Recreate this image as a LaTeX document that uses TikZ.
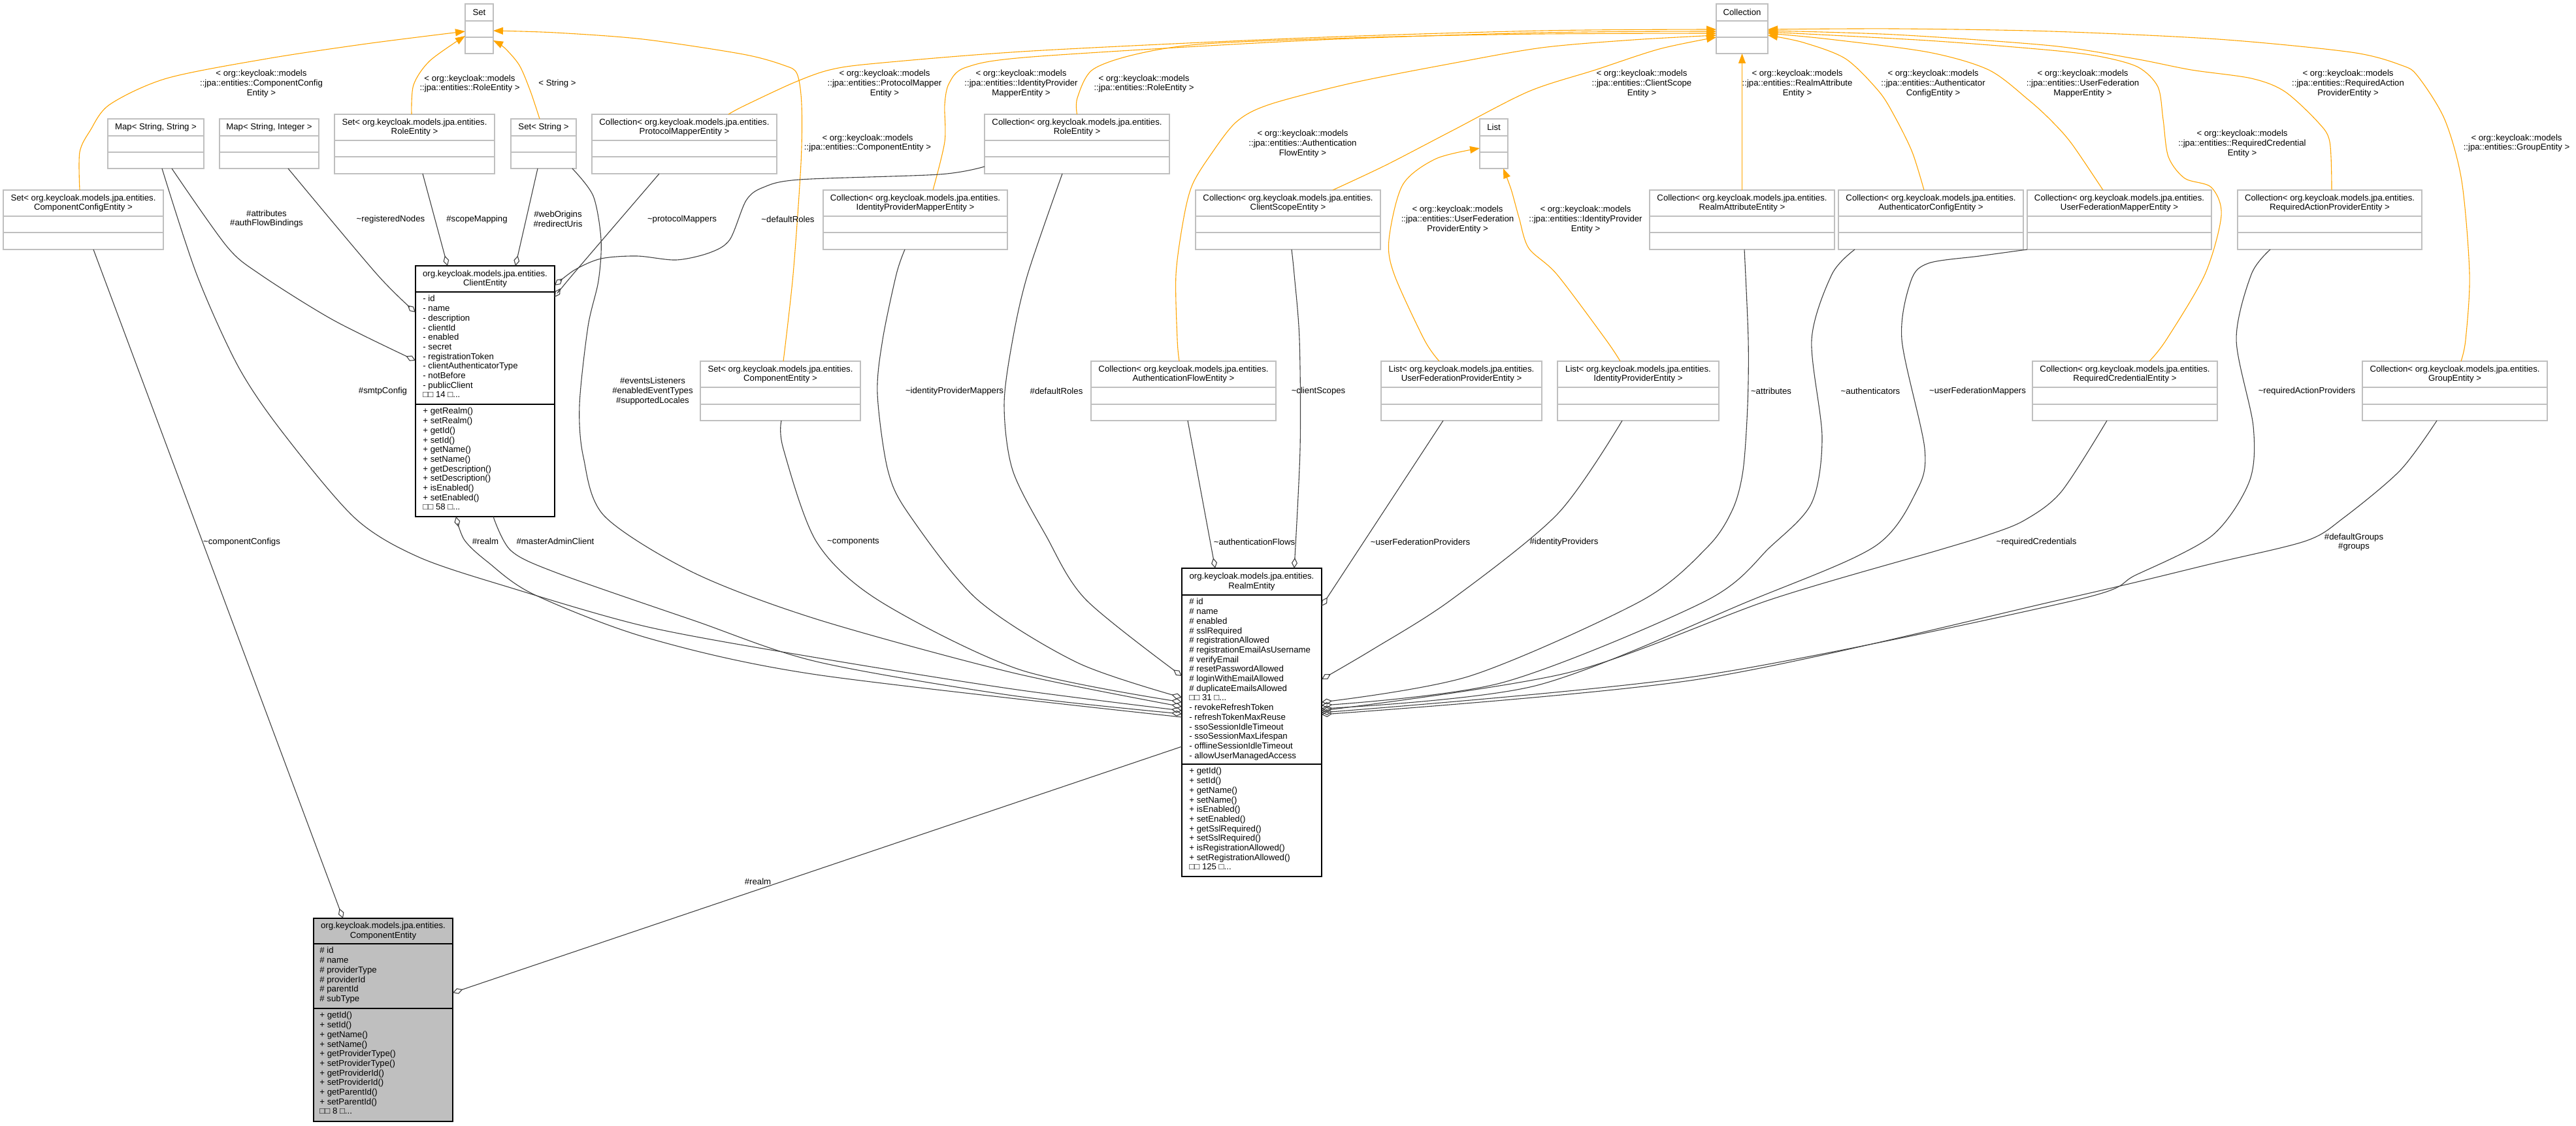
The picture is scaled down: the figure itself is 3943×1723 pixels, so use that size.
\documentclass[tikz,border=0pt]{standalone}
\usepackage{fontspec}
\setmainfont{Liberation Sans}
\usetikzlibrary{arrows.meta,calc}
\definecolor{boxgray}{HTML}{BFBFBF}
\definecolor{edgegray}{HTML}{404040}
\definecolor{instorange}{HTML}{FFA500}
\definecolor{compfill}{HTML}{BFBFBF}
\newcommand\dfont{\fontsize{6.6pt}{7.35pt}\selectfont}
\newcommand\tl{\textasciitilde}
\newcommand\okm{< org::keycloak::models}
\newcommand\oke{org.keycloak.models.jpa.entities.}
\newcommand\tbx[8]{%
  \node[tbox, anchor=north west, minimum width={0.5pt*(#4-#2)}, minimum height={0.5pt*(#5-#3)}] (#1) at (#2,#3) {};
  \draw[tsep] (#2,#6) -- (#4,#6) (#2,#7) -- (#4,#7);
  \node[lbl] (#1T) at ({(#2+#4)/2},{(#3+#6)/2}) {#8};
}
\begin{document}
\begin{tikzpicture}[x=0.5pt,y=-0.5pt,
  tbox/.style={draw=boxgray, line width=0.8pt, fill=white, inner sep=0pt, outer sep=0pt},
  tsep/.style={draw=boxgray, line width=0.8pt},
  cbox/.style={draw=black, line width=0.6pt, fill=white, inner sep=0pt, outer sep=0pt},
  csep/.style={draw=black, line width=0.6pt},
  lbl/.style={align=center, inner sep=0pt, font=\dfont},
  mem/.style={anchor=north west, align=left, inner sep=0pt, font=\dfont},
  agg/.style={draw=edgegray, line width=0.55pt, -{Diamond[open, length=8pt, width=4.5pt, line width=0.55pt]}},
  inst/.style={draw=instorange, line width=0.55pt, -{Triangle[length=7.5pt, width=5.5pt]}}]
\fill[white] (0,0) rectangle (3943,1723);
\useasboundingbox (0,0) rectangle (3943,1723);

% ---------- template boxes ----------
\tbx{setT}{712}{6}{755}{82}{32}{57}{Set}
\tbx{collT}{2627}{6}{2706}{82}{32}{57}{Collection}
\tbx{listT}{2265}{182}{2308}{258}{208}{233}{List}
\tbx{mapSS}{165}{182}{312}{258}{208}{233}{Map< String, String >}
\tbx{mapSI}{336}{182}{488}{258}{208}{233}{Map< String, Integer >}
\tbx{setRole}{512}{175}{757}{266}{215}{240}{Set< \oke\\RoleEntity >}
\tbx{setStr}{782}{182}{882}{258}{208}{233}{Set< String >}
\tbx{colPM}{906}{175}{1189}{266}{215}{240}{Collection< \oke\\ProtocolMapperEntity >}
\tbx{colRole}{1507}{175}{1790}{266}{215}{240}{Collection< \oke\\RoleEntity >}
\tbx{setCC}{5}{291}{250}{382}{331}{356}{Set< \oke\\ComponentConfigEntity >}
\tbx{colIPM}{1260}{291}{1542}{382}{331}{356}{Collection< \oke\\IdentityProviderMapperEntity >}
\tbx{colCS}{1830}{291}{2113}{382}{331}{356}{Collection< \oke\\ClientScopeEntity >}
\tbx{colRA}{2525}{291}{2808}{382}{331}{356}{Collection< \oke\\RealmAttributeEntity >}
\tbx{colAC}{2814}{291}{3097}{382}{331}{356}{Collection< \oke\\AuthenticatorConfigEntity >}
\tbx{colUFM}{3103}{291}{3385}{382}{331}{356}{Collection< \oke\\UserFederationMapperEntity >}
\tbx{colRAP}{3425}{291}{3707}{382}{331}{356}{Collection< \oke\\RequiredActionProviderEntity >}
\tbx{setComp}{1072}{553}{1317}{644}{593}{619}{Set< \oke\\ComponentEntity >}
\tbx{colAF}{1670}{553}{1953}{644}{593}{619}{Collection< \oke\\AuthenticationFlowEntity >}
\tbx{listUFP}{2114}{553}{2360}{644}{593}{619}{List< \oke\\UserFederationProviderEntity >}
\tbx{listIP}{2384}{553}{2631}{644}{593}{619}{List< \oke\\IdentityProviderEntity >}
\tbx{colRC}{3111}{553}{3394}{644}{593}{619}{Collection< \oke\\RequiredCredentialEntity >}
\tbx{colG}{3616}{553}{3899}{644}{593}{619}{Collection< \oke\\GroupEntity >}

% ---------- class boxes ----------
\node[cbox, anchor=north west, minimum width={0.5pt*213}, minimum height={0.5pt*384}] (client) at (636,407) {};
\draw[csep] (636,447) -- (849,447) (636,619) -- (849,619);
\node[lbl] (clientT) at (742.5,427) {\oke\\ClientEntity};
\node[mem] (clientA) at (647,452) {- id\\- name\\- description\\- clientId\\- enabled\\- secret\\- registrationToken\\- clientAuthenticatorType\\- notBefore\\- publicClient\\□□ 14 □...};
\node[mem] (clientM) at (647,624) {+ getRealm()\\+ setRealm()\\+ getId()\\+ setId()\\+ getName()\\+ setName()\\+ getDescription()\\+ setDescription()\\+ isEnabled()\\+ setEnabled()\\□□ 58 □...};

\node[cbox, anchor=north west, minimum width={0.5pt*214}, minimum height={0.5pt*472}] (realm) at (1809,870) {};
\draw[csep] (1809,911) -- (2023,911) (1809,1170) -- (2023,1170);
\node[lbl] (realmT) at (1916,890.5) {\oke\\RealmEntity};
\node[mem] (realmA) at (1820,916) {\# id\\\# name\\\# enabled\\\# sslRequired\\\# registrationAllowed\\\# registrationEmailAsUsername\\\# verifyEmail\\\# resetPasswordAllowed\\\# loginWithEmailAllowed\\\# duplicateEmailsAllowed\\□□ 31 □...\\- revokeRefreshToken\\- refreshTokenMaxReuse\\- ssoSessionIdleTimeout\\- ssoSessionMaxLifespan\\- offlineSessionIdleTimeout\\- allowUserManagedAccess};
\node[mem] (realmM) at (1820,1175) {+ getId()\\+ setId()\\+ getName()\\+ setName()\\+ isEnabled()\\+ setEnabled()\\+ getSslRequired()\\+ setSslRequired()\\+ isRegistrationAllowed()\\+ setRegistrationAllowed()\\□□ 125 □...};

\node[cbox, fill=compfill, anchor=north west, minimum width={0.5pt*213}, minimum height={0.5pt*311}] (comp) at (480,1406) {};
\draw[csep] (480,1445) -- (693,1445) (480,1544) -- (693,1544);
\node[lbl] (compT) at (586.5,1425.5) {\oke\\ComponentEntity};
\node[mem] (compA) at (489,1450) {\# id\\\# name\\\# providerType\\\# providerId\\\# parentId\\\# subType};
\node[mem] (compM) at (489,1549) {+ getId()\\+ setId()\\+ getName()\\+ setName()\\+ getProviderType()\\+ setProviderType()\\+ getProviderId()\\+ setProviderId()\\+ getParentId()\\+ setParentId()\\□□ 8 □...};

% ---------- template instantiation edges ----------
\draw[inst] plot[smooth] coordinates {($(setCC.north)+(-5.5,0)$) (122,233) (138,200) (168,160) (255,120) (408,90) (561,67) ($(setT.north west)+(0,42)$)};
\draw[inst] plot[smooth] coordinates {($(setRole.north)+(-4.5,0)$) (633,130) (658,93) ($(setT.north west)+(0,49)$)};
\draw[inst] plot[smooth] coordinates {($(setStr.north)+(-6,0)$) (812,140) (795,100) (772,73) ($(setT.north east)+(0,56)$)};
\draw[inst] plot[smooth] coordinates {($(setComp.north)+(4.5,0)$) (1214,420) (1226,250) (1227,160) (1220,113) (1200,100) (1137,83) (984,60) (850,50) ($(setT.north east)+(0,41)$)};
\draw[inst] plot[smooth] coordinates {($(colPM.north)+(67.5,0)$) (1137,163) (1214,127) (1270,107) (1341,97) (1580,78) (2000,58) (2360,47) ($(collT.north west)+(0,39)$)};
\draw[inst] plot[smooth] coordinates {($(colIPM.north)+(27,0)$) (1446,217) (1446,160) (1453,127) (1479,103) (1580,87) (2000,62) (2360,50) ($(collT.north west)+(0,42)$)};
\draw[inst] plot[smooth] coordinates {(colRole.north) (1649,150) (1672,107) (1739,83) (1846,67) (2100,57) (2360,52) ($(collT.north west)+(0,45)$)};
\draw[inst] plot[smooth] coordinates {($(colAF.north)+(-6.5,0)$) (1802,520) (1800,420) (1812,333) (1825,283) (1851,240) (1892,187) (1943,160) (2070,127) (2223,97) (2360,73) (2500,61) ($(collT.north west)+(0,48)$)};
\draw[inst] plot[smooth] coordinates {($(colCS.north)+(68.5,0)$) (2121,253) (2223,200) (2340,140) (2442,107) (2540,75) ($(collT.north west)+(0,51)$)};
\draw[inst] (colRA.north) -- (collT.south);
\draw[inst] plot[smooth] coordinates {($(colAC.north)+(-10.5,0)$) (2927,233) (2901,180) (2876,140) (2825,90) (2760,65) ($(collT.north east)+(0,48)$)};
\draw[inst] plot[smooth] coordinates {($(colUFM.north)+(-25,0)$) (3171,220) (3140,185) (3105,153) (3044,107) (2952,80) (2800,60) ($(collT.north east)+(0,45)$)};
\draw[inst] plot[smooth] coordinates {($(colRC.north)+(37.5,0)$) (3316,520) (3375,420) (3400,330) (3385,287) (3344,273) (3319,240) (3311,183) (3303,133) (3273,103) (3217,87) (3140,77) (2950,62) ($(collT.north east)+(0,43)$)};
\draw[inst] plot[smooth] coordinates {($(colRAP.north)+(3,0)$) (3566,217) (3548,187) (3497,140) (3446,120) (3354,107) (3268,90) (3140,70) (2900,53) ($(collT.north east)+(0,41)$)};
\draw[inst] plot[smooth] coordinates {($(colG.north)+(9.5,0)$) (3774,520) (3780,420) (3768,277) (3742,183) (3701,117) (3676,100) (3599,80) (3395,60) (3140,48) (2900,44) ($(collT.north east)+(0,39)$)};
\draw[inst] plot[smooth] coordinates {($(listUFP.north)+(-34,0)$) (2180,520) (2134,420) (2126,367) (2147,283) (2198,243) ($(listT.north west)+(0,45)$)};
\draw[inst] plot[smooth] coordinates {($(listIP.north)+(-27.5,0)$) (2458,520) (2383,420) (2340,380) (2325,333) (2313,290) ($(listT.south east)+(-7,0)$)};

% ---------- aggregation edges ----------
\draw[agg] plot[smooth] coordinates {($(mapSI.south)+(29,0)$) (577,420) ($(client.north west)+(0,71)$)};
\draw[agg] plot[smooth] coordinates {($(mapSS.south)+(24.5,0)$) (347,377) (398,420) (510,490) ($(client.north west)+(0,145)$)};
\draw[agg] ($(setRole.south)+(12.5,0)$) -- ($(client.north)+(-57.5,0)$);
\draw[agg] ($(setStr.south)+(-9,0)$) -- ($(client.north)+(46.5,0)$);
\draw[agg] plot[smooth] coordinates {($(colPM.south)+(-38.5,0)$) (877,420) ($(client.north east)+(0,48)$)};
\draw[agg] plot[smooth] coordinates {($(colRole.south west)+(0,-11)$) (1438,267) (1224,275) (1168,287) (1142,307) (1117,367) (1086,387) (1035,398) (975,392) (920,396) (880,413) ($(client.north east)+(0,30)$)};
\draw[agg] plot[smooth] coordinates {($(setStr.south)+(44,0)$) (908,300) (920,367) (916,430) (900,500) (887,620) (893,700) (925,790) (1062,877) (1250,948) (1550,1030) ($(realm.north west)+(0,212)$)};
\draw[agg] plot[smooth] coordinates {($(mapSS.south)+(9.5,0)$) (301,420) (364,560) (431,660) (543,793) (641,853) (782,900) (992,960) (1250,1007) (1550,1055) ($(realm.north west)+(0,218)$)};
\draw[agg] ($(setCC.south)+(15.5,0)$) -- ($(comp.north)+(-61.5,0)$);
\draw[agg] plot[smooth] coordinates {($(realm.north west)+(0,228)$) (1250,1033) (992,977) (817,910) (746,860) (711,827) ($(client.south)+(-44.5,0)$)};
\draw[agg] plot[smooth] coordinates {($(client.south)+(12.5,0)$) (782,843) (852,877) (1062,950) (1250,1013) (1550,1065) ($(realm.north west)+(0,223)$)};
\draw[agg] plot[smooth] coordinates {($(setComp.south)+(1.5,0)$) (1199,687) (1250,830) (1346,920) (1560,1025) ($(realm.north west)+(0,205)$)};
\draw[agg] plot[smooth] coordinates {($(colIPM.south)+(-16,0)$) (1372,420) (1351,520) (1343,603) (1359,720) (1391,787) (1496,918) (1650,1015) ($(realm.north west)+(0,198)$)};
\draw[agg] plot[smooth] coordinates {($(colRole.south)+(-22.5,0)$) (1573,420) (1550,520) (1537,620) (1550,720) (1601,820) (1662,918) ($(realm.north west)+(0,165)$)};
\draw[agg] ($(colAF.south)+(6.5,0)$) -- ($(realm.north)+(-56,0)$);
\draw[agg] plot[smooth] coordinates {($(colCS.south)+(5.5,0)$) (1981,420) (1989,520) (1990,687) ($(realm.north)+(65,0)$)};
\draw[agg] ($(listUFP.south)+(-28,0)$) -- ($(realm.north east)+(0,58)$);
\draw[agg] plot[smooth] coordinates {($(listIP.south)+(-24.5,0)$) (2384,787) (2219,920) (2100,995) ($(realm.north east)+(0,170)$)};
\draw[agg] plot[smooth] coordinates {($(colRA.south)+(3.5,0)$) (2676,520) (2675,620) (2668,720) (2652,780) (2614,837) (2512,920) (2250,1035) ($(realm.north east)+(0,205)$)};
\draw[agg] plot[smooth] coordinates {($(colAC.south)+(-116.5,0)$) (2804,420) (2773,520) (2789,670) (2773,770) (2710,837) (2611,920) (2300,1045) ($(realm.north east)+(0,210)$)};
\draw[agg] plot[smooth] coordinates {(colUFM.south west) (3030,392) (2952,403) (2925,430) (2911,520) (2946,687) (2933,753) (2869,837) (2678,920) (2350,1050) ($(realm.north east)+(0,215)$)};
\draw[agg] plot[smooth] coordinates {($(colRC.south)+(-27.5,0)$) (3155,753) (3098,797) (3040,820) (2965,843) (2710,918) (2400,1030) ($(realm.north east)+(0,218)$)};
\draw[agg] plot[smooth] coordinates {($(colRAP.south)+(-91,0)$) (3446,420) (3423,520) (3449,653) (3443,737) (3386,820) (3270,880) (3172,920) (2600,1035) ($(realm.north east)+(0,221)$)};
\draw[agg] plot[smooth] coordinates {($(colG.south)+(-27.5,0)$) (3674,720) (3587,793) (3530,828) (3386,863) (3155,918) (2600,1040) ($(realm.north east)+(0,224)$)};
\draw[agg] ($(realm.north west)+(0,273)$) -- ($(comp.north east)+(0,114)$);

% ---------- edge labels ----------
\node[lbl] (l1) at (400,128) {\okm\\::jpa::entities::ComponentConfig\\Entity >};
\node[lbl] (l2) at (719,128) {\okm\\::jpa::entities::RoleEntity >};
\node[lbl] (l3) at (853,128) {< String >};
\node[lbl] (l4) at (1328,219) {\okm\\::jpa::entities::ComponentEntity >};
\node[lbl] (l5) at (1354,128) {\okm\\::jpa::entities::ProtocolMapper\\Entity >};
\node[lbl] (l6) at (1563,128) {\okm\\::jpa::entities::IdentityProvider\\MapperEntity >};
\node[lbl] (l7) at (1751,128) {\okm\\::jpa::entities::RoleEntity >};
\node[lbl] (l8) at (1994,220) {\okm\\::jpa::entities::Authentication\\FlowEntity >};
\node[lbl] (l9) at (2513,128) {\okm\\::jpa::entities::ClientScope\\Entity >};
\node[lbl] (l10) at (2751,128) {\okm\\::jpa::entities::RealmAttribute\\Entity >};
\node[lbl] (l11) at (2959,128) {\okm\\::jpa::entities::Authenticator\\ConfigEntity >};
\node[lbl] (l12) at (3188,128) {\okm\\::jpa::entities::UserFederation\\MapperEntity >};
\node[lbl] (l13) at (3432,220) {\okm\\::jpa::entities::RequiredCredential\\Entity >};
\node[lbl] (l14) at (3594,128) {\okm\\::jpa::entities::RequiredAction\\ProviderEntity >};
\node[lbl] (l15) at (3852,219) {\okm\\::jpa::entities::GroupEntity >};
\node[lbl] (l16) at (2231,336) {\okm\\::jpa::entities::UserFederation\\ProviderEntity >};
\node[lbl] (l17) at (2427,336) {\okm\\::jpa::entities::IdentityProvider\\Entity >};

\node[lbl] (m1) at (598,336) {\tl registeredNodes};
\node[lbl] (m2) at (408,335) {\#attributes\\\#authFlowBindings};
\node[lbl] (m3) at (730,336) {\#scopeMapping};
\node[lbl] (m4) at (854,335) {\#webOrigins\\\#redirectUris};
\node[lbl] (m5) at (1044,336) {\tl protocolMappers};
\node[lbl] (m6) at (1206,336) {\tl defaultRoles};
\node[lbl] (m7) at (999,599) {\#eventsListeners\\\#enabledEventTypes\\\#supportedLocales};
\node[lbl] (m8) at (586,599) {\#smtpConfig};
\node[lbl] (m9) at (370,830) {\tl componentConfigs};
\node[lbl] (m10) at (743,829) {\#realm};
\node[lbl] (m11) at (850,829) {\#masterAdminClient};
\node[lbl] (m12) at (1306,830) {\tl components};
\node[lbl] (m13) at (1461,599) {\tl identityProviderMappers};
\node[lbl] (m14) at (1617,599) {\#defaultRoles};
\node[lbl] (m15) at (1920,830) {\tl authenticationFlows};
\node[lbl] (m16) at (2018,599) {\tl clientScopes};
\node[lbl] (m17) at (2174,830) {\tl userFederationProviders};
\node[lbl] (m18) at (2394,830) {\#identityProviders};
\node[lbl] (m19) at (2711,599) {\tl attributes};
\node[lbl] (m20) at (2863,599) {\tl authenticators};
\node[lbl] (m21) at (3027,599) {\tl userFederationMappers};
\node[lbl] (m22) at (3117,830) {\tl requiredCredentials};
\node[lbl] (m23) at (3531,599) {\tl requiredActionProviders};
\node[lbl] (m24) at (3603,830) {\#defaultGroups\\\#groups};
\node[lbl] (m25) at (1160,1350) {\#realm};
\end{tikzpicture}
\end{document}
